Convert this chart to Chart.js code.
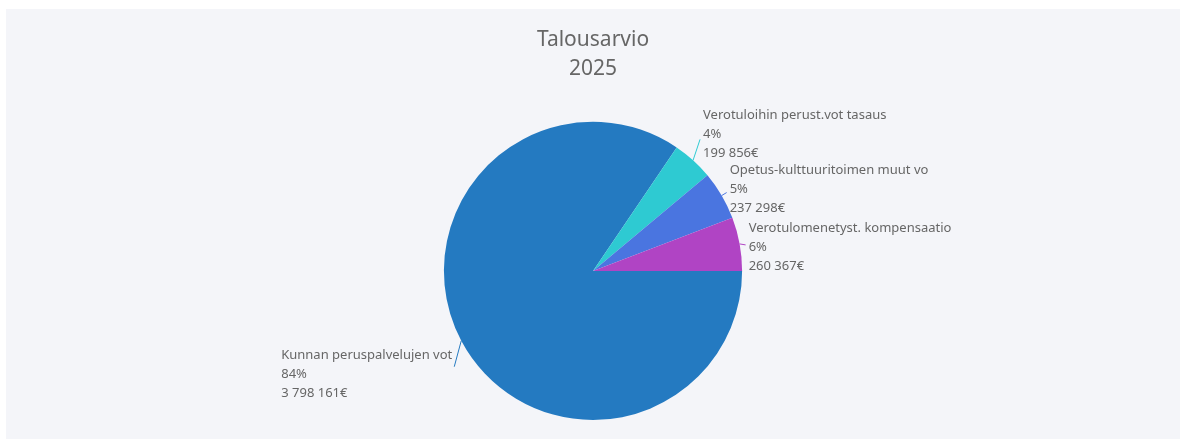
<!DOCTYPE html>
<html>
<head>
<meta charset="utf-8">
<script src="https://cdn.jsdelivr.net/npm/chart.js@4.4.1/dist/chart.umd.min.js"></script>
<style>
  body { margin: 0; background: #fff; }
  .panel { position: absolute; left: 6px; top: 9px; width: 1174px; height: 430px; background: #f4f5f9; }
</style>
</head>
<body>
<div class="panel"><canvas id="budget"></canvas></div>
<script>
const categories = [
  'Kunnan peruspalvelujen vot',
  'Verotuloihin perust.vot tasaus',
  'Opetus-kulttuuritoimen muut vo',
  'Verotulomenetyst. kompensaatio',
];
const amounts = [3798161, 199856, 237298, 260367];
const sliceColors = ['#247ac1', '#2ecad2', '#4a75e0', '#b044c4'];

// leader line end relative to slice edge [dx, dy], and text middle offset
const leaderOffsets = [[-7, 26, 8], [7, -21, -5], [5, -3, -3], [6, 1, 2]];

const fmtEuro = v => String(v).replace(/\B(?=(\d{3})+(?!\d))/g, ' ') + '€';

const outsideLabels = {
  id: 'outsideLabels',
  afterDatasetsDraw(chart) {
    const ctx = chart.ctx;
    const meta = chart.getDatasetMeta(0);
    const total = amounts.reduce((a, b) => a + b, 0);
    ctx.save();
    ctx.font = '13px "Noto Sans", sans-serif';
    ctx.fillStyle = '#666';
    ctx.textBaseline = 'middle';
    ctx.textAlign = 'left';
    meta.data.forEach((arc, i) => {
      const mid = (arc.startAngle + arc.endAngle) / 2;
      const sx = arc.x + Math.cos(mid) * arc.outerRadius;
      const sy = arc.y + Math.sin(mid) * arc.outerRadius;
      const [dx, dy, ty] = leaderOffsets[i];
      const ex = sx + dx, ey = sy + dy;
      ctx.strokeStyle = sliceColors[i];
      ctx.lineWidth = 1;
      ctx.beginPath();
      ctx.moveTo(sx, sy);
      ctx.lineTo(ex, ey);
      ctx.stroke();
      const lines = [categories[i], Math.round(amounts[i] / total * 100) + '%', fmtEuro(amounts[i])];
      // left side labels: block left-aligned, widest line ends near the leader
      const w = Math.max(...lines.map(t => ctx.measureText(t).width));
      const tx = ex >= arc.x ? ex + 3 : ex - 2 - w;
      lines.forEach((t, k) => ctx.fillText(t, tx, ey + ty + (k - 1) * 19));
    });
    ctx.restore();
  }
};

new Chart(document.getElementById('budget'), {
  type: 'pie',
  data: {
    labels: categories,
    datasets: [{
      data: amounts,
      backgroundColor: sliceColors,
      borderWidth: 0,
    }],
  },
  options: {
    responsive: true,
    maintainAspectRatio: false,
    animation: false,
    rotation: 90,
    layout: { padding: { top: 0, bottom: 19 } },
    plugins: {
      legend: { display: false },
      tooltip: { enabled: false },
      title: {
        display: true,
        text: ['Talousarvio', '2025'],
        color: '#666',
        font: { family: '"Noto Sans", sans-serif', size: 21, weight: 'normal', lineHeight: 1.4 },
        padding: { top: 16, bottom: 38 },
      },
    },
  },
  plugins: [outsideLabels],
});
</script>
</body>
</html>
